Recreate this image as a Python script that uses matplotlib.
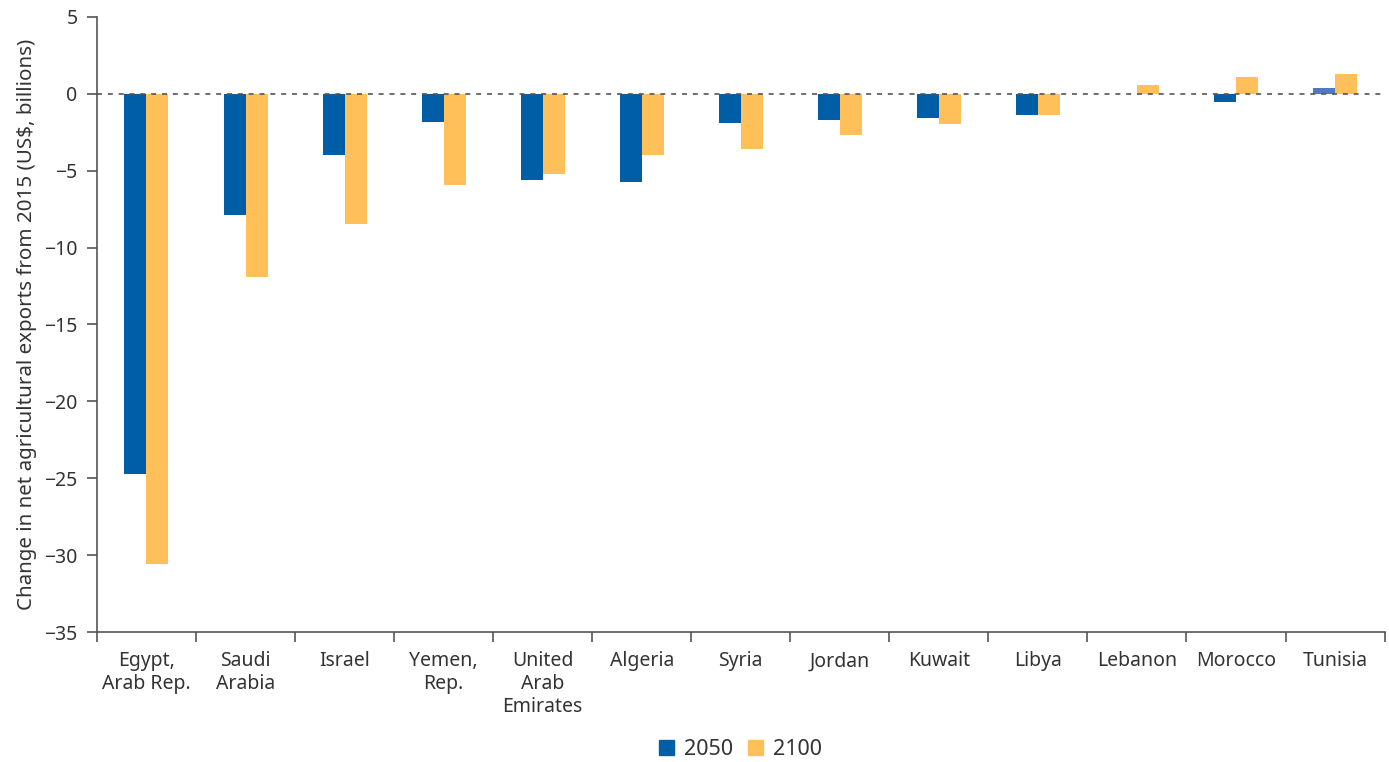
import matplotlib.pyplot as plt
import numpy as np
from matplotlib.patches import Patch

plt.rcParams["font.family"] = ["Noto Sans", "DejaVu Sans"]

countries = [
    "Egypt,\nArab Rep.", "Saudi\nArabia", "Israel", "Yemen,\nRep.",
    "United\nArab\nEmirates", "Algeria", "Syria", "Jordan", "Kuwait",
    "Libya", "Lebanon", "Morocco", "Tunisia",
]
vals_2050 = [-24.7, -7.9, -4.0, -1.8, -5.6, -5.7, -1.9, -1.7, -1.55, -1.35, 0.0, -0.55, 0.4]
vals_2100 = [-30.6, -11.9, -8.45, -5.9, -5.2, -3.95, -3.6, -2.7, -1.95, -1.35, 0.6, 1.1, 1.3]
yticks = [5, 0, -5, -10, -15, -20, -25, -30, -35]

BLUE = "#005ea6"
YELLOW = "#ffc05a"
TEXT = "#333333"
FS = 14

fig = plt.figure(figsize=(13.89, 7.62), dpi=100)
ax = fig.add_axes([0.0698, 0.1706, 0.927, 0.8071])

x = np.arange(len(countries))
w = 0.222
colors_2050 = [BLUE] * len(countries)
colors_2050[-1] = "#5079be"  # Tunisia drawn lighter in the source
ax.bar(x - w / 2, vals_2050, width=w, color=colors_2050, zorder=2)
ax.bar(x + w / 2, vals_2100, width=w, color=YELLOW, zorder=2)

ax.axhline(0, color="#555555", lw=1.2, ls=(0, (3, 3.5)), zorder=3)

ax.set_xlim(-0.5, len(countries) - 0.5)
ax.set_ylim(-35, 5)
ax.set_yticks(yticks)
ax.set_yticklabels([f"{v}".replace("-", "\u2212") for v in yticks])

# category labels centred, ticks on the boundaries
ax.set_xticks(x)
ax.set_xticklabels(countries, fontsize=FS, color=TEXT, linespacing=1.2, va="top")
ax.tick_params(axis="x", length=0, pad=14)
ax.set_xticks(np.arange(-0.5, len(countries)), minor=True)
ax.tick_params(axis="x", which="minor", length=7, width=1.2, color="#555555")
ax.tick_params(axis="y", length=7, width=1.2, color="#555555", labelsize=FS,
               labelcolor=TEXT, pad=7)

for side in ["top", "right"]:
    ax.spines[side].set_visible(False)
for side in ["left", "bottom"]:
    ax.spines[side].set_color("#555555")
    ax.spines[side].set_linewidth(1.2)

ax.set_ylabel("Change in net agricultural exports from 2015 (US$, billions)",
              fontsize=14.8, color=TEXT, labelpad=5)

handles = [Patch(color=BLUE, label="2050"), Patch(color=YELLOW, label="2100")]
fig.legend(handles=handles, loc="center", bbox_to_anchor=(0.533, 0.016), ncol=2,
           frameon=False, fontsize=15.5, handlelength=0.7, handleheight=0.7,
           handletextpad=0.45, columnspacing=0.7, labelcolor=TEXT)

fig.savefig("out.png", dpi=100)
